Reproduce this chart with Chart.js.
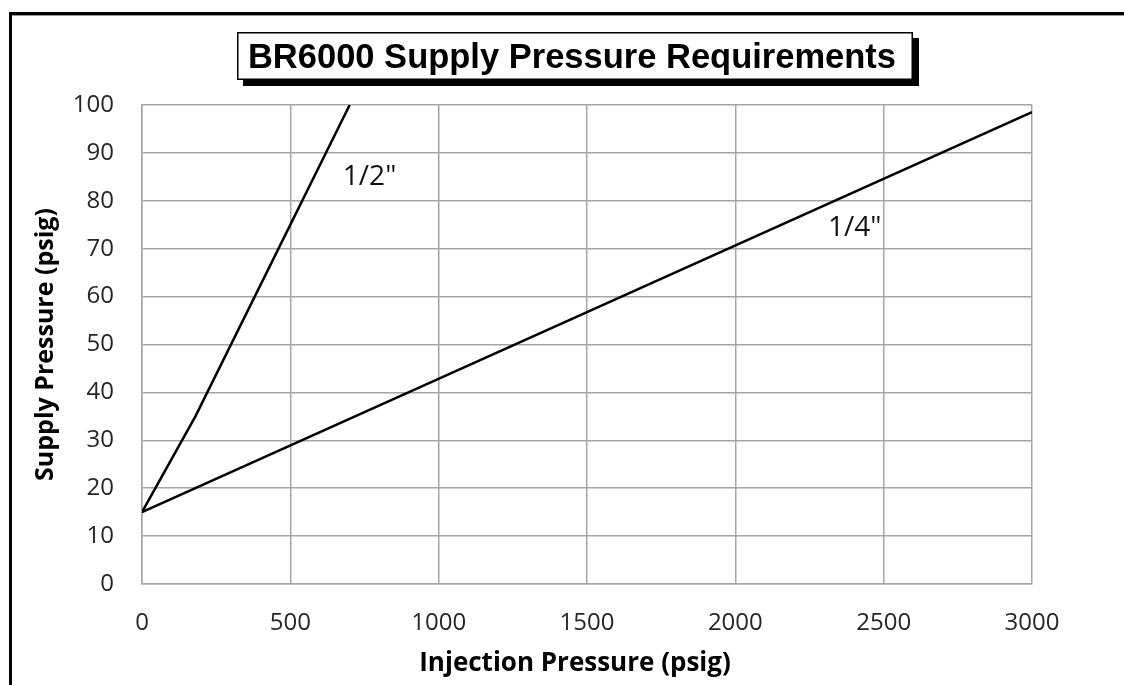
<!DOCTYPE html>
<html>
<head>
<meta charset="utf-8">
<script src="https://cdn.jsdelivr.net/npm/chart.js@4/dist/chart.umd.min.js"></script>
<style>
  html, body { margin: 0; padding: 0; background: #fff; }
  canvas { display: block; }
</style>
</head>
<body>
<canvas id="c" width="1124" height="685"></canvas>
<script>
// ---- data ----
const titleText = 'BR6000 Supply Pressure Requirements';
const xTitle = 'Injection Pressure (psig)';
const yTitle = 'Supply Pressure (psig)';
const seriesNames = ['1/2"', '1/4"'];
const halfInchX = [0, 180, 700];
const halfInchY = [15, 35, 100];
const quarterInchX = [0, 3000];
const quarterInchY = [15, 98.5];
const labelX = [677, 2312];
const labelY = [85, 74.3];
const xTicks = [0, 500, 1000, 1500, 2000, 2500, 3000];
const yTicks = [0, 10, 20, 30, 40, 50, 60, 70, 80, 90, 100];

const toPts = (xs, ys) => xs.map((x, i) => ({ x: x, y: ys[i] }));

const tickFont = { family: '"Open Sans", sans-serif', size: 24 };
const titleFont = { family: '"Open Sans", sans-serif', size: 25, weight: 'bold' };

const framePlugin = {
  id: 'frame',
  afterDraw(chart) {
    const ctx = chart.ctx;
    ctx.save();
    // outer frame (top and left)
    ctx.fillStyle = '#000';
    ctx.fillRect(9, 12, 1124 - 9, 3);
    ctx.fillRect(9, 12, 3, 685 - 12);
    ctx.fillStyle = '#999';
    ctx.fillRect(12, 15, 1124 - 12, 1);
    // title box with shadow
    const bx = 237, by = 32, bw = 676, bh = 48, sh = 6;
    ctx.fillStyle = '#000';
    ctx.fillRect(bx + sh, by + sh, bw, bh);
    ctx.fillStyle = '#fff';
    ctx.fillRect(bx, by, bw, bh);
    ctx.strokeStyle = '#000';
    ctx.lineWidth = 1.5;
    ctx.strokeRect(bx + 0.75, by + 0.75, bw - 1.5, bh - 1.5);
    ctx.fillStyle = '#000';
    ctx.font = 'bold 34.5px "Liberation Sans", Arial, sans-serif';
    ctx.textAlign = 'center';
    ctx.textBaseline = 'alphabetic';
    ctx.fillText(titleText, bx + bw / 2 - 3, 68);
    // x-axis title (centred on the whole chart, as in the original)
    ctx.font = 'bold 26px "Open Sans", sans-serif';
    ctx.textBaseline = 'middle';
    ctx.fillText(xTitle, 575, 664);
    // series labels
    const xs = chart.scales.x, ys = chart.scales.y;
    ctx.font = '28px "Open Sans", sans-serif';
    ctx.fillStyle = '#111';
    ctx.textAlign = 'left';
    ctx.textBaseline = 'middle';
    seriesNames.forEach((n, i) => {
      ctx.fillText(n, xs.getPixelForValue(labelX[i]), ys.getPixelForValue(labelY[i]));
    });
    ctx.restore();
  }
};

new Chart(document.getElementById('c'), {
  type: 'scatter',
  data: {
    datasets: [
      { label: seriesNames[0], data: toPts(halfInchX, halfInchY), showLine: true,
        borderColor: '#000', borderWidth: 2.5, pointRadius: 0, tension: 0 },
      { label: seriesNames[1], data: toPts(quarterInchX, quarterInchY), showLine: true,
        borderColor: '#000', borderWidth: 2.5, pointRadius: 0, tension: 0 }
    ]
  },
  options: {
    responsive: false,
    animation: false,
    devicePixelRatio: 1,
    layout: { padding: { left: 0, top: 105, right: 1124 - 1032, bottom: 0 } },
    plugins: { legend: { display: false }, tooltip: { enabled: false }, title: { display: false } },
    scales: {
      x: {
        type: 'linear', min: 0, max: 3000,
        afterBuildTicks: s => { s.ticks = xTicks.map(v => ({ value: v })); },
        afterFit: s => { s.height = 685 - 584; },
        grid: { color: '#a6a6a6', lineWidth: 1.5, drawTicks: false },
        border: { color: '#a6a6a6', width: 1.5 },
        ticks: { font: tickFont, color: '#262626', padding: 25, maxRotation: 0,
                 callback: v => String(v) },
        title: { display: false, text: xTitle }
      },
      y: {
        type: 'linear', min: 0, max: 100,
        afterBuildTicks: s => { s.ticks = yTicks.map(v => ({ value: v })); },
        afterFit: s => { s.width = 142; },
        grid: { color: '#a6a6a6', lineWidth: 1.5, drawTicks: false },
        border: { color: '#a6a6a6', width: 1.5 },
        ticks: { font: tickFont, color: '#262626', padding: 28, callback: v => String(v) },
        title: { display: true, text: yTitle, font: titleFont, color: '#000', padding: { top: 31, bottom: 0 } }
      }
    }
  },
  plugins: [framePlugin]
});
</script>
</body>
</html>
